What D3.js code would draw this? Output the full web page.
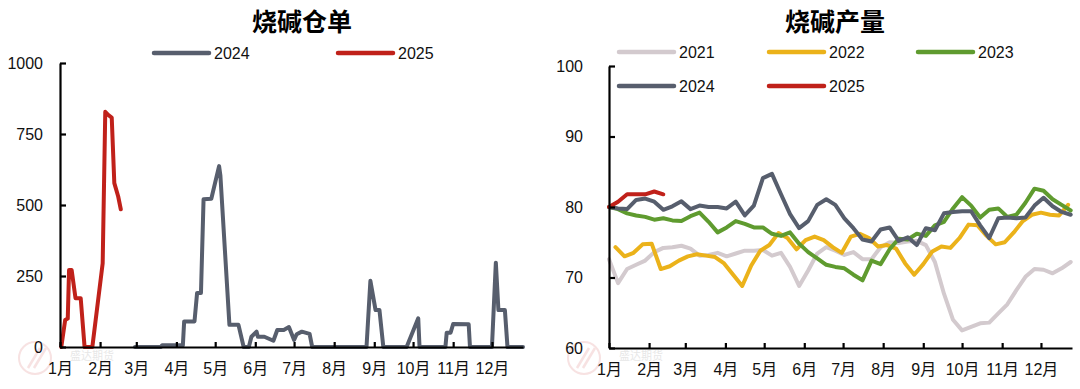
<!DOCTYPE html>
<html>
<head>
<meta charset="utf-8">
<script src="https://cdn.jsdelivr.net/npm/d3@7"></script>
<style>
  body { margin: 0; background: #fff; }
  text { font-family: "Liberation Sans", "Noto Sans CJK SC", sans-serif; }
  .title { font-family: "Noto Sans CJK SC", sans-serif; font-weight: bold; }
</style>
</head>
<body>
<div class="charts"></div>
<script>

const months = ["1月","2月","3月","4月","5月","6月","7月","8月","9月","10月","11月","12月"];

// 烧碱仓单 (daily, month-day)
const stockDates2025 = ["01-02","01-05","01-07","01-08","01-10","01-13","01-17","01-20","01-26","02-03","02-05","02-07","02-10","02-12","02-15","02-17"];
const stockValues2025 = [0,95,100,271,271,172,172,0,0,295,828,818,808,577,530,485];

const stockDates2024 = ["02-28","03-20","03-21","04-06","04-07","04-15","04-17","04-20","04-22","04-28","05-04","05-05","05-12","05-19","05-23","05-27","05-29","06-02","06-03","06-08","06-15","06-18","06-23","06-27","07-01","07-03","07-07","07-13","07-15","08-26","08-29","09-02","09-05","09-08","09-26","10-05","10-06","10-26","10-27","10-30","11-01","11-13","11-14","12-01","12-04","12-06","12-11","12-13","12-25"];
const stockValues2024 = [0,0,6,6,90,90,190,190,520,522,637,605,78,78,0,0,36,54,36,36,22,60,60,70,25,45,54,46,0,0,233,130,130,0,0,101,0,0,50,50,81,80,0,0,297,130,130,0,0];

// 烧碱产量 (weekly)
const outStart2021 = "01-01";
const output2021 = [72.6,69.2,71.2,71.8,72.4,73.6,74.2,74.3,74.5,74.1,73.1,73.2,73.5,73.0,73.4,73.8,73.8,73.9,73.1,73.5,71.5,68.8,71.0,73.4,74.3,73.8,73.2,73.6,72.6,72.6,74.3,75.0,74.9,75.1,75.2,74.6,72.2,67.7,64.0,62.5,63.0,63.5,63.6,64.9,66.2,68.2,70.1,71.2,71.1,70.6,71.3,72.2];
const outStart2022 = "01-06";
const output2022 = [74.3,73.0,73.5,74.7,74.8,71.2,71.6,72.4,73.0,73.3,73.1,72.9,72.0,70.4,68.8,71.7,73.8,74.6,76.3,75.6,74.0,75.3,75.8,75.3,74.3,73.5,75.8,76.2,75.6,74.4,74.6,74.1,72.0,70.4,71.9,73.7,74.4,74.2,75.6,77.5,77.4,75.9,74.7,75.0,76.4,78.0,78.9,79.2,78.9,78.8,80.3];
const outStart2023 = "01-01";
const output2023 = [80.0,79.7,79.1,78.8,78.6,78.2,78.4,78.1,78.0,78.7,79.2,77.9,76.4,77.1,78.0,77.6,77.1,77.1,76.2,75.9,76.4,74.8,73.6,72.7,71.8,71.5,71.3,70.4,69.6,72.4,71.9,74.0,75.5,75.4,76.2,75.9,77.4,77.9,79.8,81.4,80.2,78.5,79.6,79.8,78.6,78.9,80.6,82.6,82.3,81.1,80.3,79.5];
const outStart2024 = "01-01";
const output2024 = [80.0,79.8,79.7,81.0,81.2,80.75,79.6,80.1,80.8,79.7,80.2,80.0,80.0,79.8,80.75,78.8,80.2,84.1,84.7,81.8,79.0,77.0,78.0,80.3,81.1,80.3,78.4,77.0,75.4,75.1,76.8,77.1,75.2,75.7,74.6,77.0,76.7,79.1,79.3,79.4,79.4,77.4,75.6,78.4,78.5,78.4,78.5,80.2,81.3,80.1,79.3,78.9];
const outStart2025 = "01-01";
const output2025 = [80.0,80.75,81.8,81.8,81.8,82.2,81.8];

const colors = {"2021": "#D3CACE", "2022": "#EBB21A", "2023": "#5F9B2F", "2024": "#575E6D", "2025": "#C0211A"};

const parseDay = d3.timeParse("%Y-%m-%d");
const md = s => parseDay("2001-" + s);

function daily(dates, values) {
    return dates.map((d, i) => ({date: md(d), value: values[i]}));
}
function weekly(start, values) {
    let s = md(start);
    return values.map((v, i) => ({date: d3.timeDay.offset(s, i * 7), value: v}));
}

let svg = d3.select('.charts')
    .append('svg')
    .attr('width', 1080)
    .attr('height', 389);

function drawChart(opt) {
    let g = svg.append('g');

    let x = d3.scaleTime()
        .domain([md("01-01"), md("12-25")])
        .range([opt.left, opt.right]);
    let y = d3.scaleLinear()
        .domain(opt.yDomain)
        .range([opt.bottom, opt.top]);

    // watermark
    let wm = g.append('g').attr('opacity', 0.3);
    wm.append('circle')
        .attr('cx', opt.left - 25).attr('cy', 358).attr('r', 16)
        .attr('fill', 'none').attr('stroke', '#E8A0A0').attr('stroke-width', 2);
    wm.append('path')
        .attr('d', `M${opt.left - 32},368 L${opt.left - 20},348 M${opt.left - 26},368 L${opt.left - 14},348`)
        .attr('stroke', '#E8A0A0').attr('stroke-width', 2.5).attr('fill', 'none');
    wm.append('text')
        .attr('x', opt.left + 10).attr('y', 360)
        .attr('font-size', 11).attr('fill', '#B0B0B0')
        .text('盛达期货');

    let line = d3.line()
        .x(d => x(d.date))
        .y(d => y(d.value));

    g.selectAll('path.series')
        .data(opt.series)
        .enter()
        .append('path')
        .attr('class', 'series')
        .attr('d', d => line(d.data))
        .attr('fill', 'none')
        .attr('stroke', d => colors[d.name])
        .attr('stroke-width', 4)
        .attr('stroke-linejoin', 'round')
        .attr('stroke-linecap', 'round');

    let xAxis = d3.axisBottom(x)
        .tickValues(d3.range(12).map(m => new Date(2001, m, 1)))
        .tickFormat((d, i) => months[i])
        .tickSizeInner(-5)
        .tickSizeOuter(0)
        .tickPadding(16);
    let xg = g.append('g')
        .attr('transform', 'translate(0,' + opt.bottom + ')')
        .call(xAxis);

    let yAxis = d3.axisLeft(y)
        .tickValues(opt.yTicks)
        .tickFormat(d3.format('d'))
        .tickSizeInner(-6)
        .tickSizeOuter(0)
        .tickPadding(opt.yPad);
    let yg = g.append('g')
        .attr('transform', 'translate(' + opt.left + ',0)')
        .call(yAxis);

    [xg, yg].forEach(a => {
        a.select('.domain').attr('stroke', '#000').attr('stroke-width', 2.2);
        a.selectAll('.tick line').attr('stroke', '#000').attr('stroke-width', 2.2);
        a.selectAll('.tick text').attr('font-size', 16).attr('fill', '#111')
            .style('font-family', '"Liberation Sans", "Noto Sans CJK SC", sans-serif');
    });

    g.append('text')
        .attr('class', 'title')
        .attr('x', opt.titleX)
        .attr('y', 31)
        .attr('text-anchor', 'middle')
        .attr('font-size', 25)
        .text(opt.title);

    let legend = g.selectAll('g.legend')
        .data(opt.legend)
        .enter()
        .append('g')
        .attr('class', 'legend')
        .attr('transform', d => 'translate(' + d.x + ',' + d.y + ')');
    legend.append('line')
        .attr('x1', 0).attr('x2', 55)
        .attr('stroke', d => colors[d.name])
        .attr('stroke-width', 4.5)
        .attr('stroke-linecap', 'round');
    legend.append('text')
        .attr('x', 60)
        .attr('dy', '0.36em')
        .attr('font-size', 16)
        .attr('fill', '#111')
        .text(d => d.name);
}

drawChart({
    title: '烧碱仓单', titleX: 302,
    left: 60, right: 523, top: 63, bottom: 347,
    yDomain: [0, 1000], yTicks: [0, 250, 500, 750, 1000], yPad: 17,
    series: [
        {name: '2024', data: daily(stockDates2024, stockValues2024)},
        {name: '2025', data: daily(stockDates2025, stockValues2025)}
    ],
    legend: [{name: '2024', x: 154, y: 53}, {name: '2025', x: 338, y: 53}]
});

drawChart({
    title: '烧碱产量', titleX: 835,
    left: 609, right: 1072, top: 66, bottom: 348,
    yDomain: [60, 100], yTicks: [60, 70, 80, 90, 100], yPad: 26,
    series: [
        {name: '2021', data: weekly(outStart2021, output2021)},
        {name: '2022', data: weekly(outStart2022, output2022)},
        {name: '2023', data: weekly(outStart2023, output2023)},
        {name: '2024', data: weekly(outStart2024, output2024)},
        {name: '2025', data: weekly(outStart2025, output2025)}
    ],
    legend: [{name: '2021', x: 619, y: 52}, {name: '2022', x: 769, y: 52}, {name: '2023', x: 918, y: 52},
             {name: '2024', x: 619, y: 86}, {name: '2025', x: 769, y: 86}]
});

</script>
</body>
</html>
